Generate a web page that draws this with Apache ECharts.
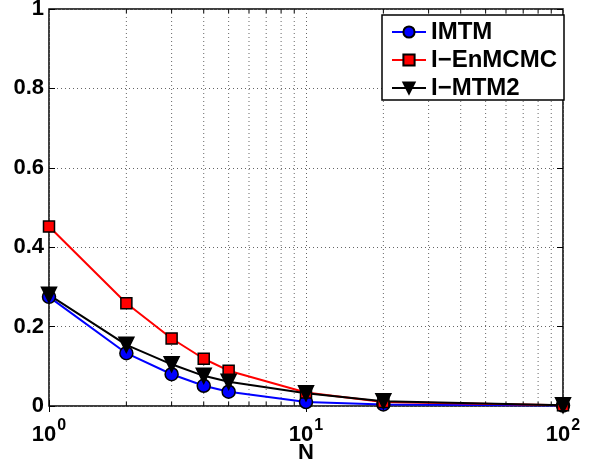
<!DOCTYPE html>
<html>
<head>
<meta charset="utf-8">
<script src="https://cdn.jsdelivr.net/npm/echarts@6/dist/echarts.min.js"></script>
<style>
  html, body { margin: 0; padding: 0; background: #fff; }
  #chart { width: 594px; height: 467px; }
</style>
</head>
<body>
<div id="chart"></div>
<script>
// Sample sizes on the log-scaled x axis
const nValues = [1, 2, 3, 4, 5, 10, 20, 100];

// Error values per method
const imtm     = [0.275, 0.133, 0.080, 0.051, 0.036, 0.010, 0.004, 0.001];
const ienmcmc  = [0.452, 0.259, 0.170, 0.119, 0.089, 0.034, 0.010, 0.002];
const imtm2    = [0.280, 0.154, 0.105, 0.076, 0.061, 0.032, 0.012, 0.002];

// Minor decade positions for the dotted grid and tick marks
const minorX = [2, 3, 4, 5, 6, 7, 8, 9, 20, 30, 40, 50, 60, 70, 80, 90];

const FONT = 'Liberation Sans, Arial, Helvetica, sans-serif';

function pairs(xs, ys) { return xs.map((x, i) => [x, ys[i]]); }

const chart = echarts.init(document.getElementById('chart'), null, { renderer: 'canvas' });

const minorGrid = {
  type: 'custom',
  silent: true,
  z: 1,
  data: minorX.map(x => [x]),
  renderItem: function (params, api) {
    const x = api.value(0);
    const top = api.coord([x, 1]);
    const bot = api.coord([x, 0]);
    const dot = { stroke: '#666', lineWidth: 1, lineDash: [1, 3] };
    const tick = { stroke: '#000', lineWidth: 1 };
    return {
      type: 'group',
      children: [
        { type: 'line', shape: { x1: bot[0], y1: bot[1], x2: top[0], y2: top[1] }, style: dot },
        { type: 'line', shape: { x1: bot[0], y1: bot[1], x2: bot[0], y2: bot[1] - 4 }, style: tick },
        { type: 'line', shape: { x1: top[0], y1: top[1], x2: top[0], y2: top[1] + 4 }, style: tick }
      ]
    };
  }
};

function lineSeries(name, values, color, symbol, size, rotate) {
  return {
    name: name,
    type: 'line',
    data: pairs(nValues, values),
    symbol: symbol,
    symbolSize: size,
    symbolRotate: rotate || 0,
    z: 3,
    lineStyle: { color: color, width: 2 },
    itemStyle: { color: symbol === 'triangle' ? '#000' : color, borderColor: '#000', borderWidth: 1.5 }
  };
}

const option = {
  animation: false,
  backgroundColor: '#fff',
  grid: {
    left: 49, right: 31, top: 9, bottom: 61,
    containLabel: false, outerBoundsMode: 'none',
    show: true, borderColor: '#000', borderWidth: 1.5, backgroundColor: 'transparent'
  },
  legend: {
    orient: 'vertical',
    left: 382, top: 15,
    backgroundColor: '#fff',
    borderColor: '#000', borderWidth: 1.5, borderRadius: 0,
    padding: [5, 7, 0, 9],
    itemWidth: 34, itemHeight: 14, itemGap: 4,
    symbolRotate: 'inherit',
    textStyle: { fontFamily: FONT, fontSize: 24, fontWeight: 'bold', color: '#000' },
    data: ['IMTM', 'I\u2212EnMCMC', 'I\u2212MTM2']
  },
  xAxis: [{
    type: 'log', logBase: 10, min: 1, max: 100,
    name: 'N', nameLocation: 'middle', nameGap: 36, nameMoveOverlap: false,
    nameTextStyle: { fontFamily: FONT, fontSize: 22, fontWeight: 'bold', color: '#000' },
    axisLine: { show: false },
    axisTick: { show: true, inside: true, length: 6, lineStyle: { color: '#000', width: 1 } },
    splitLine: { show: true, lineStyle: { color: '#666', type: [1, 3], width: 1 } },
    axisLabel: {
      margin: 12,
      formatter: function (v) { return '{b|10}{s|' + Math.round(Math.log10(v)) + '}'; },
      rich: {
        b: { fontFamily: FONT, fontSize: 22, fontWeight: 'bold', color: '#000', verticalAlign: 'bottom' },
        s: { fontFamily: FONT, fontSize: 16, fontWeight: 'bold', color: '#000', padding: [0, 0, 12, 1], verticalAlign: 'bottom' }
      }
    }
  }, {
    type: 'log', logBase: 10, min: 1, max: 100, position: 'top',
    axisLine: { show: false }, axisLabel: { show: false }, splitLine: { show: false },
    axisTick: { show: true, inside: true, length: 6, lineStyle: { color: '#000', width: 1 } }
  }],
  yAxis: [{
    type: 'value', min: 0, max: 1, interval: 0.2,
    axisLine: { show: false },
    axisTick: { show: true, inside: true, length: 6, lineStyle: { color: '#000', width: 1 } },
    splitLine: { show: true, lineStyle: { color: '#666', type: [1, 3], width: 1 } },
    axisLabel: {
      margin: 5,
      fontFamily: FONT, fontSize: 22, fontWeight: 'bold', color: '#000',
      formatter: function (v) { return String(+v.toFixed(1)); }
    }
  }, {
    type: 'value', min: 0, max: 1, interval: 0.2, position: 'right',
    axisLine: { show: false }, axisLabel: { show: false }, splitLine: { show: false },
    axisTick: { show: true, inside: true, length: 6, lineStyle: { color: '#000', width: 1 } }
  }],
  series: [
    minorGrid,
    lineSeries('IMTM', imtm, '#0000ff', 'circle', 13),
    lineSeries('I\u2212EnMCMC', ienmcmc, '#ff0000', 'rect', 11),
    lineSeries('I\u2212MTM2', imtm2, '#000000', 'triangle', 15, 180)
  ]
};

chart.setOption(option);
</script>
</body>
</html>
